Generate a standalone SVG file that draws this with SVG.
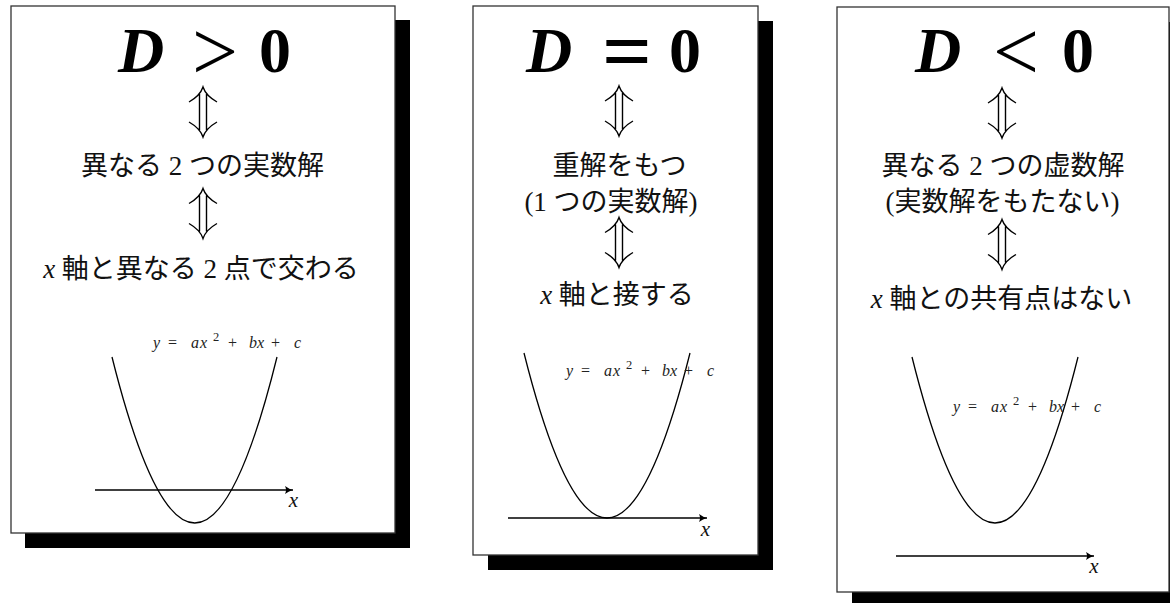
<svg xmlns="http://www.w3.org/2000/svg" width="1170" height="603" viewBox="0 0 1170 603">
<style>
.box{fill:#fff;stroke:#333;stroke-width:1.3}
.shadow{fill:#000}
.t{font-family:"Liberation Serif","Noto Sans CJK JP",serif;font-size:27px;fill:#111;text-anchor:middle}
.it{font-style:italic}
.ttl{font-family:"Liberation Serif",serif;font-size:64px;fill:#000;text-anchor:middle}
.rel{font-family:"Liberation Serif",serif;font-size:84px;fill:#000;text-anchor:middle}
.D{font-weight:bold;font-style:italic}
.b{font-weight:bold}
.eq{font-family:"Liberation Serif",serif;font-size:16px;fill:#222}
.sup{font-size:12.5px}
.xl{font-family:"Liberation Serif",serif;font-size:21px;font-style:italic;fill:#111;text-anchor:middle}
.curve{fill:none;stroke:#000;stroke-width:1.3}
.axis{fill:none;stroke:#000;stroke-width:1.3;marker-end:url(#ah)}
.dar{fill:none;stroke:#000;stroke-width:1.4}
</style>
<defs>
<marker id="ah" markerUnits="userSpaceOnUse" markerWidth="12" markerHeight="10" refX="9" refY="5" orient="auto">
<path d="M1,1 Q5,4 9,5 Q5,6 1,9 Q3,5 1,1 Z" fill="#000"/>
</marker>
<path id="updown" class="dar" d="M-14,-10 C-7,-14 -2,-19 0,-25 C2,-19 7,-14 14,-10 M-3.5,-18 V18 M3.5,-18 V18 M-14,10 C-7,14 -2,19 0,25 C2,19 7,14 14,10"/>
</defs>

<g id="panel1">
<rect class="shadow" x="25" y="20" width="385" height="528"/>
<rect class="box" x="11" y="6" width="384" height="527"/>
<text class="ttl D" x="141" y="72">D</text>
<text class="rel" x="215" y="80" textLength="46" lengthAdjust="spacingAndGlyphs">&gt;</text>
<text class="ttl b" x="275" y="72">0</text>
<use href="#updown" x="203" y="112"/>
<text class="t" x="202.5" y="175">異なる 2 つの実数解</text>
<use href="#updown" x="203" y="213.5"/>
<text class="t" x="201" y="278"><tspan class="it">x</tspan> 軸と異なる 2 点で交わる</text>
<path class="curve" d="M112,357 Q195,689 277,357"/>
<path class="axis" d="M95,490 H293"/>
<text class="xl" x="293.5" y="507">x</text>
<text class="eq" y="348"><tspan class="it" x="153">y</tspan><tspan x="168">=</tspan><tspan class="it" x="191">a</tspan><tspan class="it" x="200">x</tspan><tspan class="sup" x="213" dy="-7">2</tspan><tspan x="228" dy="7">+</tspan><tspan class="it" x="249">b</tspan><tspan class="it" x="257">x</tspan><tspan x="271">+</tspan><tspan class="it" x="294">c</tspan></text>
</g>

<g id="panel2">
<rect class="shadow" x="488" y="21" width="285" height="549"/>
<rect class="box" x="473" y="6" width="285" height="549"/>
<text class="ttl D" x="549" y="72">D</text>
<text class="rel b" x="627" y="80" textLength="50" lengthAdjust="spacingAndGlyphs">=</text>
<text class="ttl b" x="685" y="72">0</text>
<use href="#updown" x="619" y="111"/>
<text class="t" x="619.5" y="175">重解をもつ</text>
<text class="t" x="611" y="211">(1 つの実数解)</text>
<use href="#updown" x="619" y="242.5"/>
<text class="t" x="617" y="304"><tspan class="it">x</tspan> 軸と接する</text>
<path class="curve" d="M524,353 Q607,683 690,353"/>
<path class="axis" d="M508,518 H707"/>
<text class="xl" x="705.5" y="536">x</text>
<text class="eq" y="376"><tspan class="it" x="566">y</tspan><tspan x="581">=</tspan><tspan class="it" x="604">a</tspan><tspan class="it" x="613">x</tspan><tspan class="sup" x="626" dy="-7">2</tspan><tspan x="641" dy="7">+</tspan><tspan class="it" x="662">b</tspan><tspan class="it" x="670">x</tspan><tspan x="684">+</tspan><tspan class="it" x="707">c</tspan></text>
</g>

<g id="panel3">
<rect class="shadow" x="852" y="22" width="332" height="585"/>
<rect class="box" x="837" y="7" width="332" height="585"/>
<text class="ttl D" x="938" y="72">D</text>
<text class="rel" x="1016" y="80" textLength="46" lengthAdjust="spacingAndGlyphs">&lt;</text>
<text class="ttl b" x="1078" y="72">0</text>
<use href="#updown" x="1002" y="113"/>
<text class="t" x="1003" y="175">異なる 2 つの虚数解</text>
<text class="t" x="1002.5" y="211">(実数解をもたない)</text>
<use href="#updown" x="1002" y="244.5"/>
<text class="t" x="1001.5" y="308"><tspan class="it">x</tspan> 軸との共有点はない</text>
<path class="curve" d="M912,357 Q995,689 1078,357"/>
<path class="axis" d="M896,556 H1094"/>
<text class="xl" x="1094" y="573">x</text>
<text class="eq" y="412"><tspan class="it" x="953">y</tspan><tspan x="968">=</tspan><tspan class="it" x="991">a</tspan><tspan class="it" x="1000">x</tspan><tspan class="sup" x="1013" dy="-7">2</tspan><tspan x="1028" dy="7">+</tspan><tspan class="it" x="1049">b</tspan><tspan class="it" x="1057">x</tspan><tspan x="1071">+</tspan><tspan class="it" x="1094">c</tspan></text>
</g>
</svg>
